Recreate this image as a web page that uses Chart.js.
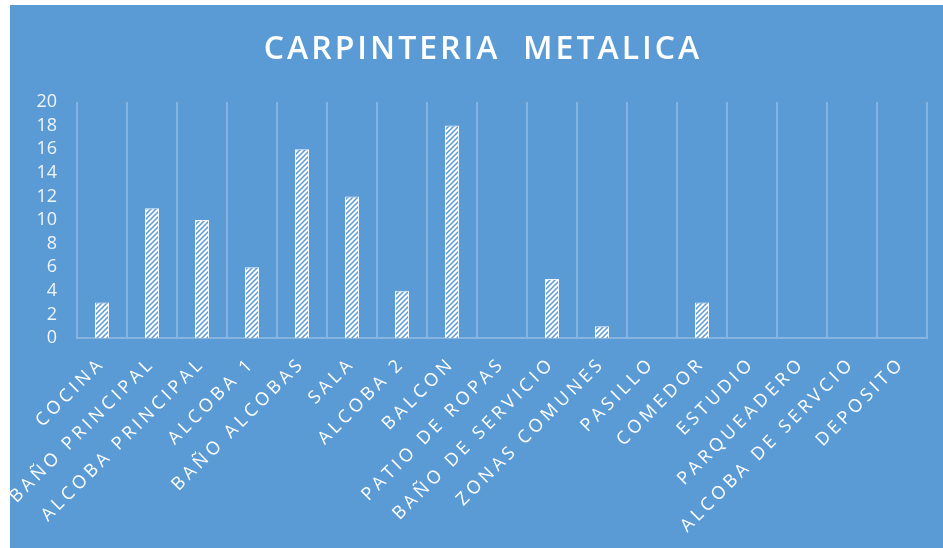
<!DOCTYPE html>
<html>
<head>
<meta charset="utf-8">
<script src="https://cdn.jsdelivr.net/npm/chart.js@4.4.1/dist/chart.umd.min.js"></script>
<style>
  html, body { margin: 0; padding: 0; background: #ffffff; }
  #wrap { width: 943px; height: 548px; position: relative; }
</style>
</head>
<body>
<div id="wrap"><canvas id="chart" width="943" height="548"></canvas></div>
<script>
// Spaces of the apartment and metal carpentry quantities
const categories = [
  'COCINA', 'BAÑO PRINCIPAL', 'ALCOBA PRINCIPAL', 'ALCOBA 1', 'BAÑO ALCOBAS',
  'SALA', 'ALCOBA 2', 'BALCON', 'PATIO DE ROPAS', 'BAÑO DE SERVICIO',
  'ZONAS COMUNES', 'PASILLO', 'COMEDOR', 'ESTUDIO', 'PARQUEADERO',
  'ALCOBA DE SERVCIO', 'DEPOSITO'
];
const quantities = [3, 11, 10, 6, 16, 12, 4, 18, 0, 5, 1, 0, 3, 0, 0, 0, 0];
const yTicks = [0, 2, 4, 6, 8, 10, 12, 14, 16, 18, 20];
const chartTitle = 'CARPINTERIA  METALICA';

const BLUE = '#5b9bd5';
const GRID = 'rgba(255,255,255,0.25)';

// Diagonal hatch fill for the bars (white with thin blue "/" stripes)
function makeHatch() {
  const s = 5;
  const c = document.createElement('canvas');
  c.width = s; c.height = s;
  const g = c.getContext('2d');
  g.fillStyle = '#ffffff';
  g.fillRect(0, 0, s, s);
  g.strokeStyle = BLUE;
  g.lineWidth = 1.5;
  g.beginPath();
  g.moveTo(-1, s + 1); g.lineTo(s + 1, -1);
  g.moveTo(-1, 1); g.lineTo(1, -1);
  g.moveTo(s - 1, s + 1); g.lineTo(s + 1, s - 1);
  g.stroke();
  return g.createPattern(c, 'repeat');
}

// Blue panel, spaced-out category labels and the title
const frame = {
  id: 'frame',
  beforeDraw(chart) {
    const ctx = chart.ctx;
    ctx.save();
    ctx.fillStyle = '#ffffff';
    ctx.fillRect(0, 0, chart.width, chart.height);
    ctx.fillStyle = BLUE;
    ctx.fillRect(10, 5, chart.width - 10, chart.height - 5);
    ctx.restore();
    ctx.letterSpacing = '0px';
  },
  afterDatasetsDraw(chart) {
    // x labels are drawn after the bars (ticks.z = 1)
    chart.ctx.letterSpacing = '3.8px';
  },
  afterDraw(chart) {
    const ctx = chart.ctx;
    ctx.save();
    ctx.letterSpacing = '3px';
    ctx.font = '600 32px "Open Sans"';
    ctx.fillStyle = '#ffffff';
    ctx.textAlign = 'center';
    ctx.textBaseline = 'middle';
    ctx.fillText(chartTitle, 483, 50);
    ctx.restore();
    ctx.letterSpacing = '0px';
  }
};

new Chart(document.getElementById('chart'), {
  type: 'bar',
  data: {
    labels: categories,
    datasets: [{
      data: quantities,
      backgroundColor: makeHatch(),
      borderColor: 'rgba(255,255,255,0.9)',
      borderWidth: 1,
      categoryPercentage: 1,
      barPercentage: 0.28
    }]
  },
  options: {
    responsive: false,
    animation: false,
    layout: { padding: { top: 102, left: 0, right: 16, bottom: 0 } },
    plugins: {
      legend: { display: false },
      title: { display: false },
      tooltip: { enabled: false }
    },
    scales: {
      x: {
        offset: true,
        grid: { display: true, offset: true, color: GRID, lineWidth: 2, drawTicks: false },
        border: { display: true, color: GRID, width: 2 },
        ticks: {
          z: 1,
          color: '#ffffff',
          font: { family: '"Open Sans"', size: 18 },
          minRotation: 45,
          maxRotation: 45,
          autoSkip: false,
          padding: 15
        },
        afterFit(scale) {
          scale.height = 210;
          scale.paddingLeft = 0;
          scale.paddingRight = 0;
        }
      },
      y: {
        min: 0,
        max: 20,
        grid: { display: false, drawTicks: false },
        border: { display: false },
        afterBuildTicks(scale) {
          scale.ticks = yTicks.map(v => ({ value: v }));
        },
        ticks: {
          z: 0,
          color: 'rgba(255,255,255,0.9)',
          font: { family: '"Open Sans"', size: 18 },
          autoSkip: false,
          padding: 20
        },
        afterFit(scale) {
          scale.width = 77;
          scale.paddingTop = 0;
          scale.paddingBottom = 0;
        }
      }
    }
  },
  plugins: [frame]
});
</script>
</body>
</html>
